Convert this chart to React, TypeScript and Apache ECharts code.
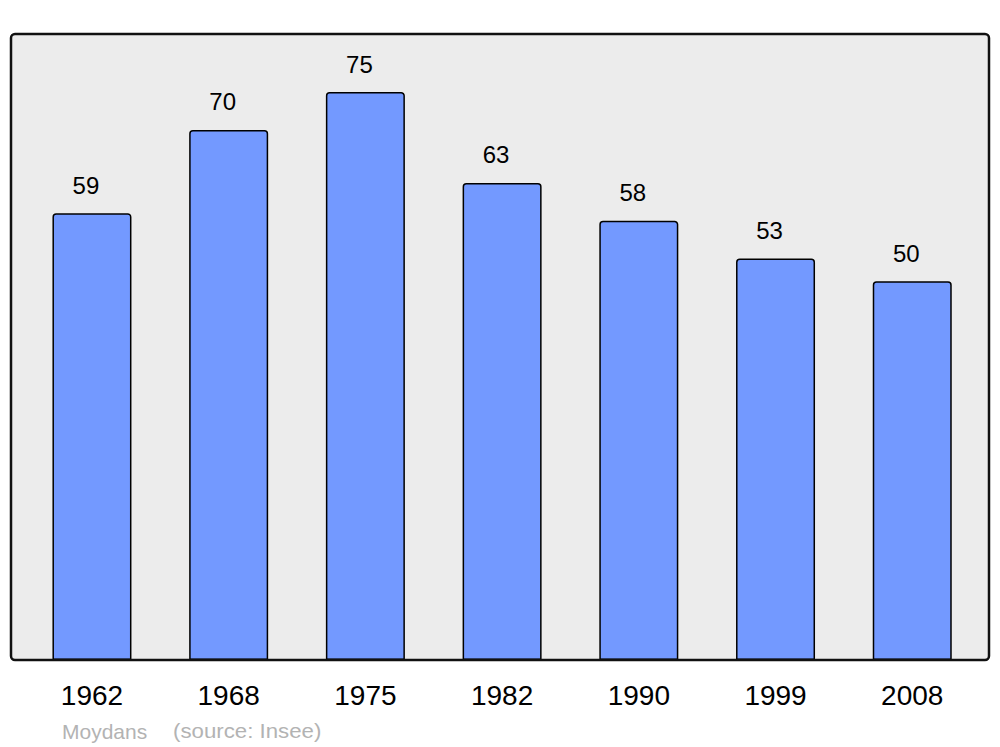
import React, { useEffect, useRef } from "react";
import * as echarts from "echarts";

const years = ["1962", "1968", "1975", "1982", "1990", "1999", "2008"];
const population = [59, 70, 75, 63, 58, 53, 50];
const townName = "Moydans";
const sourceText = "(source: Insee)";

const FONT = "'Liberation Sans', Arial, sans-serif";

export default function App() {
  const ref = useRef<HTMLDivElement>(null);
  useEffect(() => {
    if (!ref.current) return;
    const chart = echarts.init(ref.current, undefined, { renderer: "svg" });
    chart.setOption({
      animation: false,
      backgroundColor: "#ffffff",
      grid: { left: 23.6, right: 19.4, top: 34, bottom: 87 },
      xAxis: {
        type: "category",
        data: years,
        axisLine: { show: false },
        axisTick: { show: false },
        axisLabel: {
          color: "#000",
          fontSize: 28,
          fontFamily: FONT,
          margin: 21,
        },
      },
      yAxis: {
        type: "value",
        min: 0,
        max: 82.66,
        show: false,
        splitLine: { show: false },
      },
      graphic: [
        {
          type: "rect",
          z: -10,
          shape: { x: 11, y: 34, width: 978, height: 626, r: 4 },
          style: { fill: "#ececec", stroke: "none" },
        },
        {
          type: "rect",
          z: 100,
          shape: { x: 11, y: 34, width: 978, height: 626, r: 4 },
          style: { fill: "none", stroke: "#111", lineWidth: 2.5 },
        },
        {
          type: "text",
          x: 62,
          y: 731,
          style: {
            text: townName,
            fill: "#b3b3b3",
            fontSize: 21,
            fontFamily: FONT,
            verticalAlign: "middle",
          },
        },
        {
          type: "text",
          x: 173,
          y: 731,
          scaleX: 1.06,
          style: {
            text: sourceText,
            fill: "#b3b3b3",
            fontSize: 21,
            fontFamily: FONT,
            verticalAlign: "middle",
          },
        },
      ],
      series: [
        {
          type: "bar",
          data: population,
          barWidth: 79,
          itemStyle: {
            color: "#7399ff",
            borderColor: "#000",
            borderWidth: 1.5,
            borderRadius: [3, 3, 0, 0],
          },
          label: {
            show: true,
            position: "top",
            distance: 16,
            offset: [-6, 0],
            color: "#000",
            fontSize: 24,
            fontFamily: FONT,
          },
        },
      ],
    });
    return () => chart.dispose();
  }, []);
  return (
    <div
      ref={ref}
      style={{ position: "fixed", left: 0, top: 0, width: 1000, height: 747 }}
    />
  );
}
